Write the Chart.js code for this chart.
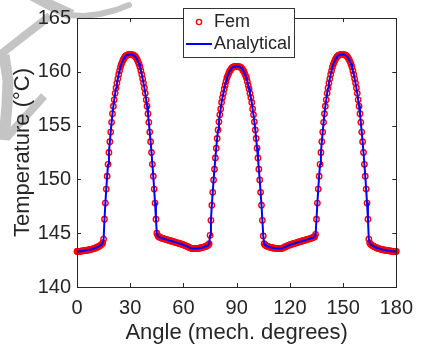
<!DOCTYPE html>
<html>
<head>
<meta charset="utf-8">
<script src="https://cdn.jsdelivr.net/npm/chart.js@4"></script>
<style>
  html, body { margin: 0; padding: 0; background: #fff; }
  canvas { display: block; }
</style>
</head>
<body>
<canvas id="chart" width="422" height="348"></canvas>
<script>
/* data (0 .. 180 deg, every 0.5 deg) */
var angleStep = 0.5;
var temperature = [
    143.30, 143.30, 143.31, 143.32, 143.33, 143.34, 143.35, 143.36, 143.38, 143.39,
    143.40, 143.42, 143.43, 143.45, 143.46, 143.48, 143.50, 143.52, 143.55, 143.57,
    143.60, 143.63, 143.67, 143.71, 143.75, 143.80, 143.85, 143.90, 143.97, 144.10,
    144.45, 146.30, 147.80, 149.10, 150.30, 151.40, 152.50, 153.50, 154.40, 155.30,
    156.10, 156.80, 157.40, 158.00, 158.50, 158.95, 159.35, 159.75, 160.10, 160.45,
    160.70, 160.90, 161.10, 161.25, 161.38, 161.47, 161.53, 161.57, 161.59, 161.60,
    161.60, 161.60, 161.59, 161.57, 161.53, 161.47, 161.38, 161.25, 161.10, 160.90,
    160.70, 160.45, 160.10, 159.75, 159.35, 158.95, 158.50, 158.00, 157.40, 156.80,
    156.10, 155.30, 154.40, 153.50, 152.50, 151.40, 150.30, 149.10, 147.80, 146.30,
    145.00, 144.78, 144.68, 144.63, 144.59, 144.56, 144.53, 144.50, 144.48, 144.45,
    144.43, 144.40, 144.38, 144.35, 144.33, 144.30, 144.28, 144.25, 144.23, 144.20,
    144.18, 144.15, 144.13, 144.10, 144.08, 144.05, 144.03, 144.00, 143.98, 143.95,
    143.92, 143.88, 143.85, 143.81, 143.78, 143.74, 143.70, 143.66, 143.62, 143.59,
    143.58, 143.57, 143.57, 143.57, 143.58, 143.58, 143.59, 143.60, 143.61, 143.63,
    143.65, 143.67, 143.69, 143.71, 143.74, 143.77, 143.81, 143.85, 143.91, 144.02,
    144.80, 146.20, 147.60, 148.80, 149.95, 150.95, 152.00, 152.90, 153.80, 154.60,
    155.35, 156.00, 156.55, 157.15, 157.60, 158.00, 158.40, 158.75, 159.10, 159.45,
    159.65, 159.85, 160.05, 160.15, 160.30, 160.38, 160.44, 160.47, 160.49, 160.50,
    160.50, 160.50, 160.49, 160.47, 160.44, 160.38, 160.30, 160.15, 160.05, 159.85,
    159.65, 159.45, 159.10, 158.75, 158.40, 158.00, 157.60, 157.15, 156.55, 156.00,
    155.35, 154.60, 153.80, 152.90, 152.00, 150.95, 149.95, 148.80, 147.60, 146.20,
    144.75, 144.02, 143.91, 143.85, 143.81, 143.77, 143.74, 143.71, 143.69, 143.67,
    143.65, 143.63, 143.61, 143.60, 143.59, 143.58, 143.58, 143.57, 143.57, 143.57,
    143.58, 143.59, 143.62, 143.66, 143.70, 143.74, 143.78, 143.81, 143.85, 143.88,
    143.92, 143.95, 143.98, 144.00, 144.03, 144.05, 144.08, 144.10, 144.13, 144.15,
    144.18, 144.20, 144.23, 144.25, 144.28, 144.30, 144.33, 144.35, 144.38, 144.40,
    144.43, 144.45, 144.48, 144.50, 144.53, 144.56, 144.59, 144.63, 144.68, 144.90,
    146.30, 147.80, 149.10, 150.30, 151.40, 152.50, 153.50, 154.40, 155.30, 156.10,
    156.80, 157.40, 158.00, 158.50, 158.95, 159.35, 159.75, 160.10, 160.45, 160.70,
    160.90, 161.10, 161.25, 161.38, 161.47, 161.53, 161.57, 161.59, 161.60, 161.60,
    161.60, 161.59, 161.57, 161.53, 161.47, 161.38, 161.25, 161.10, 160.90, 160.70,
    160.45, 160.10, 159.75, 159.35, 158.95, 158.50, 158.00, 157.40, 156.80, 156.10,
    155.30, 154.40, 153.50, 152.50, 151.40, 150.30, 149.10, 147.80, 146.30, 144.45,
    144.10, 143.97, 143.90, 143.85, 143.80, 143.75, 143.71, 143.67, 143.63, 143.60,
    143.57, 143.55, 143.52, 143.50, 143.48, 143.46, 143.45, 143.43, 143.42, 143.40,
    143.39, 143.38, 143.36, 143.35, 143.34, 143.33, 143.32, 143.31, 143.30, 143.30,
    143.30
];
var seriesNames = ["Fem", "Analytical"];
var xTicks = [0, 30, 60, 90, 120, 150, 180];
var yTicks = [140, 145, 150, 155, 160, 165];

var fontName = "'Liberation Sans', Arial, sans-serif";
var inkColor = "#262626";

var points = temperature.map(function(t, i) {
    return { x: i * angleStep, y: t };
});

/* grey smudge in the top left corner of the picture */
var smudge = [
    { w: 11, cap: "butt", p: [[30, -6], [52, 6], [72, 15]] },
    { w: 6, cap: "round", p: [[68, 15], [84, 16], [100, 14], [116, 10], [129, 5]] },
    { w: 8, cap: "butt", p: [[50, 16], [24, 36], [-4, 58]] },
    { w: 11, cap: "butt", p: [[4, 55], [8, 80], [7, 105], [4, 140]] },
    { w: 8, cap: "butt", p: [[44, 96], [26, 116], [6, 138]] }
];

const framePlugin = {
    id: 'frame',
    beforeDraw(chart) {
        let ctx = chart.ctx;
        ctx.save();
        ctx.fillStyle = "#ffffff";
        ctx.fillRect(0, 0, chart.width, chart.height);
        ctx.strokeStyle = "#c4c4c4";
        ctx.lineJoin = "round";
        smudge.forEach(function(s) {
            ctx.lineWidth = s.w;
            ctx.lineCap = s.cap;
            ctx.beginPath();
            s.p.forEach(function(q, k) {
                if (k == 0) ctx.moveTo(q[0], q[1]);
                else ctx.lineTo(q[0], q[1]);
            });
            ctx.stroke();
        });
        ctx.restore();
    },
    afterDatasetsDraw(chart) {
        let ctx = chart.ctx;
        let a = chart.chartArea;
        let sx = chart.scales.x, sy = chart.scales.y;
        let tl = 4;
        ctx.save();
        ctx.strokeStyle = inkColor;
        ctx.lineWidth = 1;
        ctx.strokeRect(Math.round(a.left) + 0.5, Math.round(a.top) + 0.5,
            Math.round(a.right - a.left), Math.round(a.bottom - a.top));
        ctx.beginPath();
        xTicks.forEach(function(v) {
            let px = Math.round(sx.getPixelForValue(v)) + 0.5;
            ctx.moveTo(px, a.bottom); ctx.lineTo(px, a.bottom - tl);
            ctx.moveTo(px, a.top); ctx.lineTo(px, a.top + tl);
        });
        yTicks.forEach(function(v) {
            let py = Math.round(sy.getPixelForValue(v)) + 0.5;
            ctx.moveTo(a.left, py); ctx.lineTo(a.left + tl, py);
            ctx.moveTo(a.right, py); ctx.lineTo(a.right - tl, py);
        });
        ctx.stroke();
        ctx.restore();
    },
    afterDraw(chart) {
        /* legend box, drawn like the matlab one */
        let ctx = chart.ctx;
        ctx.save();
        ctx.fillStyle = "#ffffff";
        ctx.fillRect(183.5, 8.5, 111, 49);
        ctx.strokeStyle = "#333333";
        ctx.lineWidth = 1;
        ctx.strokeRect(183.5, 8.5, 111, 49);

        ctx.strokeStyle = "#ff0000";
        ctx.lineWidth = 1.4;
        ctx.beginPath();
        ctx.arc(199, 22, 2.6, 0, Math.PI * 2);
        ctx.stroke();

        ctx.strokeStyle = "#0000ff";
        ctx.lineWidth = 2;
        ctx.beginPath();
        ctx.moveTo(186, 44);
        ctx.lineTo(212, 44);
        ctx.stroke();

        ctx.fillStyle = inkColor;
        ctx.font = "18px " + fontName;
        ctx.textBaseline = "middle";
        ctx.textAlign = "left";
        ctx.fillText(seriesNames[0], 214, 22);
        ctx.fillText(seriesNames[1], 214, 44);
        ctx.restore();
    }
};

window.onload = function() {
    var ctx = document.getElementById("chart").getContext("2d");
    window.theChart = new Chart(ctx, {
        type: 'line',
        data: {
            datasets: [{
                label: seriesNames[1],
                data: points,
                borderColor: "#0000ff",
                borderWidth: 2,
                borderJoinStyle: "round",
                pointRadius: 0,
                tension: 0,
                order: 0
            }, {
                label: seriesNames[0],
                data: points,
                showLine: false,
                borderColor: "#ff0000",
                backgroundColor: "rgba(0,0,0,0)",
                pointRadius: 2.7,
                pointBorderWidth: 1.4,
                pointBorderColor: "#ff0000",
                pointBackgroundColor: "rgba(0,0,0,0)",
                clip: 4,
                order: 1
            }]
        },
        options: {
            responsive: false,
            animation: false,
            layout: { padding: { top: 16, right: 22, left: 0, bottom: 0 } },
            plugins: {
                legend: { display: false },
                tooltip: { enabled: false }
            },
            scales: {
                x: {
                    type: 'linear',
                    min: 0,
                    max: 180,
                    grid: { display: false, drawTicks: false },
                    border: { display: false },
                    ticks: {
                        stepSize: 30,
                        padding: 9,
                        color: inkColor,
                        font: { family: fontName, size: 20 }
                    },
                    title: {
                        display: true,
                        text: "Angle (mech. degrees)",
                        color: inkColor,
                        font: { family: fontName, size: 22 },
                        padding: { top: 0, bottom: 2 }
                    },
                    afterFit: function(s) { s.height = 61; }
                },
                y: {
                    type: 'linear',
                    min: 140,
                    max: 165,
                    grid: { display: false, drawTicks: false },
                    border: { display: false },
                    ticks: {
                        stepSize: 5,
                        padding: 6,
                        color: inkColor,
                        font: { family: fontName, size: 20 }
                    },
                    title: {
                        display: true,
                        text: "Temperature (°C)",
                        color: inkColor,
                        font: { family: fontName, size: 22 },
                        padding: { top: 10, bottom: 0 }
                    },
                    afterFit: function(s) { s.width = 77; }
                }
            }
        },
        plugins: [framePlugin]
    });
}
</script>
</body>
</html>
